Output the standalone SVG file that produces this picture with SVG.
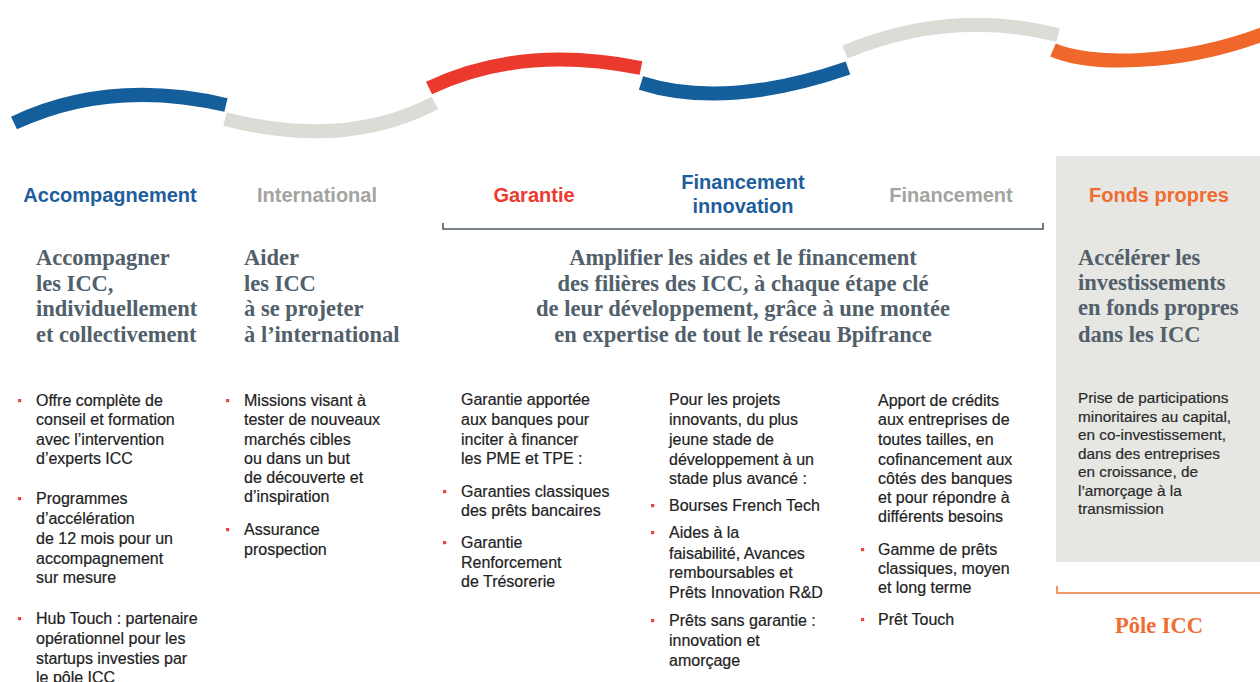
<svg xmlns="http://www.w3.org/2000/svg" width="1260" height="682" viewBox="0 0 1260 682">
  <style>
    .band { fill: none; stroke-width: 14; stroke-linecap: butt; }
    .hd { font-family: "Liberation Sans", Arial, sans-serif; font-weight: bold; font-size: 20px; text-anchor: middle; }
    .serif { font-family: "Liberation Serif", "Times New Roman", serif; font-weight: bold; font-size: 22.5px; fill: #51606a; }
    .body { font-family: "Liberation Sans", Arial, sans-serif; font-size: 16px; fill: #222; stroke: #222; stroke-width: 0.2; }
    .small { font-family: "Liberation Sans", Arial, sans-serif; font-size: 15.3px; fill: #2a2a2a; stroke: #2a2a2a; stroke-width: 0.2; }
    .dot { fill: #e8463c; }
    .blue { fill: #1d5e9c; }
    .grey { fill: #a3a3a1; }
    .red { fill: #ec3a2f; }
    .orange { fill: #f06c30; }
  </style>

  <!-- wave band, one arc per business line -->
  <g id="band">
    <path class="band" stroke="#145f9b" d="M14,123 Q110,78 226,105"/>
    <path class="band" stroke="#dcdcd7" d="M225,119 Q344,150 435,103"/>
    <path class="band" stroke="#ec392d" d="M429,88 Q521,44 641,68"/>
    <path class="band" stroke="#145f9b" d="M641,83 Q726,110 848,68"/>
    <path class="band" stroke="#dcdcd7" d="M845,52 Q951,8 1058,35"/>
    <path class="band" stroke="#ef672a" d="M1053,50 C1090,66 1180,66 1266,33"/>
  </g>

  <!-- shaded panel for equity -->
  <rect id="panel" x="1056" y="156" width="204" height="406" fill="#e6e6e3"/>

  <!-- brackets grouping the financing lines and the ICC unit -->
  <g id="connectors">
    <path d="M443,223 V229 H1043 V223" fill="none" stroke="#4d5964" stroke-width="1.6"/>
    <path d="M1057,586 V593 H1262" fill="none" stroke="#f07a3c" stroke-width="1.6"/>
  </g>

  <g id="accompagnement">
    <text class="hd blue" x="110" y="202">Accompagnement</text>
    <text class="serif" x="36" y="265">Accompagner</text>
    <text class="serif" x="36" y="291">les ICC,</text>
    <text class="serif" x="36" y="316">individuellement</text>
    <text class="serif" x="36" y="342">et collectivement</text>
    <rect class="dot" x="18" y="399" width="3.2" height="3.2"/>
    <text class="body" x="36" y="406">Offre complète de</text>
    <text class="body" x="36" y="425">conseil et formation</text>
    <text class="body" x="36" y="445">avec l’intervention</text>
    <text class="body" x="36" y="464">d’experts ICC</text>
    <rect class="dot" x="18" y="497" width="3.2" height="3.2"/>
    <text class="body" x="36" y="504">Programmes</text>
    <text class="body" x="36" y="524">d’accélération</text>
    <text class="body" x="36" y="544">de 12 mois pour un</text>
    <text class="body" x="36" y="564">accompagnement</text>
    <text class="body" x="36" y="583">sur mesure</text>
    <rect class="dot" x="18" y="617" width="3.2" height="3.2"/>
    <text class="body" x="36" y="624">Hub Touch : partenaire</text>
    <text class="body" x="36" y="644">opérationnel pour les</text>
    <text class="body" x="36" y="664">startups investies par</text>
    <text class="body" x="36" y="683">le pôle ICC</text>
  </g>

  <g id="international">
    <text class="hd grey" x="317" y="202">International</text>
    <text class="serif" x="244" y="265">Aider</text>
    <text class="serif" x="244" y="291">les ICC</text>
    <text class="serif" x="244" y="316">à se projeter</text>
    <text class="serif" x="244" y="342">à l’international</text>
    <rect class="dot" x="226" y="399" width="3.2" height="3.2"/>
    <text class="body" x="244" y="406">Missions visant à</text>
    <text class="body" x="244" y="425">tester de nouveaux</text>
    <text class="body" x="244" y="445">marchés cibles</text>
    <text class="body" x="244" y="464">ou dans un but</text>
    <text class="body" x="244" y="483">de découverte et</text>
    <text class="body" x="244" y="502">d’inspiration</text>
    <rect class="dot" x="226" y="528" width="3.2" height="3.2"/>
    <text class="body" x="244" y="535">Assurance</text>
    <text class="body" x="244" y="555">prospection</text>
  </g>

  <g id="financement-groupe">
    <text class="serif" x="743" y="265" text-anchor="middle">Amplifier les aides et le financement</text>
    <text class="serif" x="743" y="291" text-anchor="middle">des filières des ICC, à chaque étape clé</text>
    <text class="serif" x="743" y="316" text-anchor="middle">de leur développement, grâce à une montée</text>
    <text class="serif" x="743" y="342" text-anchor="middle">en expertise de tout le réseau Bpifrance</text>
  </g>

  <g id="garantie">
    <text class="hd red" x="534" y="202">Garantie</text>
    <text class="body" x="461" y="405">Garantie apportée</text>
    <text class="body" x="461" y="425">aux banques pour</text>
    <text class="body" x="461" y="445">inciter à financer</text>
    <text class="body" x="461" y="464">les PME et TPE :</text>
    <rect class="dot" x="443" y="490" width="3.2" height="3.2"/>
    <text class="body" x="461" y="497">Garanties classiques</text>
    <text class="body" x="461" y="516">des prêts bancaires</text>
    <rect class="dot" x="443" y="541" width="3.2" height="3.2"/>
    <text class="body" x="461" y="548">Garantie</text>
    <text class="body" x="461" y="568">Renforcement</text>
    <text class="body" x="461" y="587">de Trésorerie</text>
  </g>

  <g id="financement-innovation">
    <text class="hd blue" x="743" y="189">Financement</text>
    <text class="hd blue" x="743" y="213">innovation</text>
    <text class="body" x="669" y="405">Pour les projets</text>
    <text class="body" x="669" y="425">innovants, du plus</text>
    <text class="body" x="669" y="445">jeune stade de</text>
    <text class="body" x="669" y="465">développement à un</text>
    <text class="body" x="669" y="484">stade plus avancé :</text>
    <rect class="dot" x="651" y="504" width="3.2" height="3.2"/>
    <text class="body" x="669" y="511">Bourses French Tech</text>
    <rect class="dot" x="651" y="531" width="3.2" height="3.2"/>
    <text class="body" x="669" y="538">Aides à la</text>
    <text class="body" x="669" y="559">faisabilité, Avances</text>
    <text class="body" x="669" y="578">remboursables et</text>
    <text class="body" x="669" y="598">Prêts Innovation R&amp;D</text>
    <rect class="dot" x="651" y="619" width="3.2" height="3.2"/>
    <text class="body" x="669" y="626">Prêts sans garantie :</text>
    <text class="body" x="669" y="646">innovation et</text>
    <text class="body" x="669" y="666">amorçage</text>
  </g>

  <g id="financement">
    <text class="hd grey" x="951" y="202">Financement</text>
    <text class="body" x="878" y="406">Apport de crédits</text>
    <text class="body" x="878" y="425">aux entreprises de</text>
    <text class="body" x="878" y="445">toutes tailles, en</text>
    <text class="body" x="878" y="465">cofinancement aux</text>
    <text class="body" x="878" y="484">côtés des banques</text>
    <text class="body" x="878" y="503">et pour répondre à</text>
    <text class="body" x="878" y="522">différents besoins</text>
    <rect class="dot" x="861" y="548" width="3.2" height="3.2"/>
    <text class="body" x="878" y="555">Gamme de prêts</text>
    <text class="body" x="878" y="574">classiques, moyen</text>
    <text class="body" x="878" y="593">et long terme</text>
    <rect class="dot" x="861" y="618" width="3.2" height="3.2"/>
    <text class="body" x="878" y="625">Prêt Touch</text>
  </g>

  <g id="fonds-propres">
    <text class="hd orange" x="1159" y="202">Fonds propres</text>
    <text class="serif" x="1078" y="265">Accélérer les</text>
    <text class="serif" x="1078" y="290">investissements</text>
    <text class="serif" x="1078" y="315">en fonds propres</text>
    <text class="serif" x="1078" y="342">dans les ICC</text>
    <text class="small" x="1078" y="403">Prise de participations</text>
    <text class="small" x="1078" y="421.5">minoritaires au capital,</text>
    <text class="small" x="1078" y="440">en co-investissement,</text>
    <text class="small" x="1078" y="458.5">dans des entreprises</text>
    <text class="small" x="1078" y="477">en croissance, de</text>
    <text class="small" x="1078" y="495.5">l’amorçage à la</text>
    <text class="small" x="1078" y="514">transmission</text>
    <text class="serif orange" x="1159" y="633" text-anchor="middle" font-size="21">Pôle ICC</text>
  </g>
</svg>
